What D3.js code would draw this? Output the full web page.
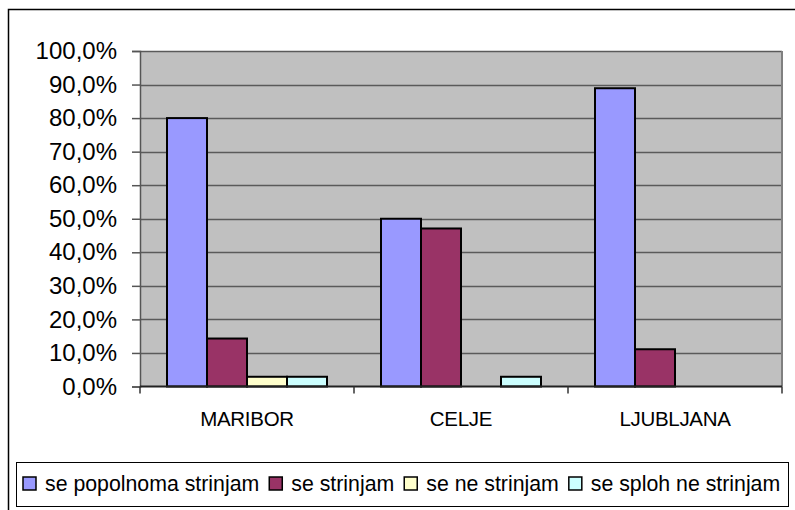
<!DOCTYPE html>
<html>
<head>
<meta charset="utf-8">
<script src="https://cdn.jsdelivr.net/npm/d3@7/dist/d3.min.js"></script>
<style>
  body { margin: 0; background: #fff; }
  svg { display: block; font-family: "Liberation Sans", Arial, sans-serif; }
</style>
</head>
<body>
<svg id="chart" width="795" height="510"></svg>
<script>
// data (percent)
var cities = ["MARIBOR", "CELJE", "LJUBLJANA"];
var seriesNames = ["se popolnoma strinjam", "se strinjam", "se ne strinjam", "se sploh ne strinjam"];
var seriesColors = ["#9999FF", "#993366", "#FFFFCC", "#CCFFFF"];
var popolnoma = [80.0, 50.0, 88.9];
var strinjam = [14.3, 47.1, 11.1];
var neStrinjam = [2.9, 0, 0];
var splohNe = [2.9, 2.9, 0];
var yTicks = [0, 10, 20, 30, 40, 50, 60, 70, 80, 90, 100];

var values = [popolnoma, strinjam, neStrinjam, splohNe];

var svg = d3.select("#chart");

// outer chart frame
svg.append("rect")
    .attr("x", 8.5).attr("y", 9.5)
    .attr("width", 800).attr("height", 520)
    .attr("fill", "#fff").attr("stroke", "#000").attr("stroke-width", 1.5);

var plotL = 140, plotR = 782, plotT = 51, plotB = 386.5;

var y = d3.scaleLinear().domain([0, 100]).range([plotB, plotT]);
var x0 = d3.scaleBand().domain(cities).range([plotL, plotR]).padding(0);
var x1 = d3.scaleBand().domain(d3.range(seriesNames.length))
    .range([0, x0.bandwidth()]).paddingInner(0).paddingOuter(0.675);

// plot area
svg.append("rect")
    .attr("x", plotL).attr("y", plotT)
    .attr("width", plotR - plotL).attr("height", plotB - plotT)
    .attr("fill", "#C0C0C0");

// gridlines
svg.append("g").selectAll("line")
    .data(yTicks.filter(function (d) { return d > 0; }))
    .enter().append("line")
    .attr("x1", plotL).attr("x2", plotR)
    .attr("y1", function (d) { return Math.round(y(d)) + 0.5; })
    .attr("y2", function (d) { return Math.round(y(d)) + 0.5; })
    .attr("stroke", "#5a5a5a").attr("stroke-width", 1.5);

// right edge of plot
svg.append("line")
    .attr("x1", plotR).attr("x2", plotR).attr("y1", plotT).attr("y2", plotB)
    .attr("stroke", "#808080").attr("stroke-width", 2);

// bars
var groups = svg.append("g").selectAll("g")
    .data(cities).enter().append("g")
    .attr("transform", function (d) { return "translate(" + x0(d) + ",0)"; });

groups.selectAll("rect")
    .data(function (c, ci) {
        return values.map(function (s, si) { return { si: si, v: s[ci] }; })
            .filter(function (d) { return d.v > 0; });
    })
    .enter().append("rect")
    .attr("x", function (d) { return x1(d.si); })
    .attr("y", function (d) { return y(d.v); })
    .attr("width", x1.bandwidth())
    .attr("height", function (d) { return y(0) - y(d.v); })
    .attr("fill", function (d) { return seriesColors[d.si]; })
    .attr("stroke", "#000").attr("stroke-width", 2);

// y axis
var yAxis = svg.append("g").attr("transform", "translate(" + plotL + ",0)")
    .call(d3.axisLeft(y).tickValues(yTicks).tickSize(8).tickPadding(15)
        .tickFormat(function (d) { return d.toFixed(1).replace(".", ",") + "%"; }));
yAxis.select(".domain").attr("stroke", "#555").attr("stroke-width", 1.5);
yAxis.selectAll(".tick line").attr("stroke", "#555").attr("stroke-width", 1.5);
yAxis.selectAll("text").attr("font-size", 24).attr("fill", "#000")
    .attr("font-family", "'Liberation Sans', Arial, sans-serif");

// x axis
var xAxis = svg.append("g").attr("transform", "translate(0," + plotB + ")");
xAxis.append("line").attr("x1", plotL).attr("x2", plotR)
    .attr("stroke", "#222").attr("stroke-width", 2);
xAxis.selectAll(".tk").data(cities.concat(["end"])).enter().append("line")
    .attr("x1", function (d, i) { return i < cities.length ? x0(d) : plotR; })
    .attr("x2", function (d, i) { return i < cities.length ? x0(d) : plotR; })
    .attr("y1", 0).attr("y2", 7)
    .attr("stroke", "#333").attr("stroke-width", 1.5);
xAxis.selectAll("text").data(cities).enter().append("text")
    .attr("x", function (d) { return x0(d) + x0.bandwidth() / 2; })
    .attr("y", 32)
    .attr("dy", "0.35em")
    .attr("text-anchor", "middle")
    .attr("font-size", 20.5)
    .attr("letter-spacing", -0.3)
    .text(function (d) { return d; });

// legend
svg.append("rect")
    .attr("x", 16.5).attr("y", 462.5).attr("width", 772).attr("height", 44)
    .attr("fill", "#fff").attr("stroke", "#000").attr("stroke-width", 1);

var lx = 23;
seriesNames.forEach(function (name, i) {
    svg.append("rect")
        .attr("x", lx).attr("y", 477).attr("width", 13).attr("height", 13)
        .attr("fill", seriesColors[i]).attr("stroke", "#000").attr("stroke-width", 1.5);
    var t = svg.append("text")
        .attr("x", lx + 22).attr("y", 484).attr("dy", "0.35em")
        .attr("font-size", 21.3)
        .text(name);
    lx += 22 + t.node().getComputedTextLength() + 10;
});
</script>
</body>
</html>
